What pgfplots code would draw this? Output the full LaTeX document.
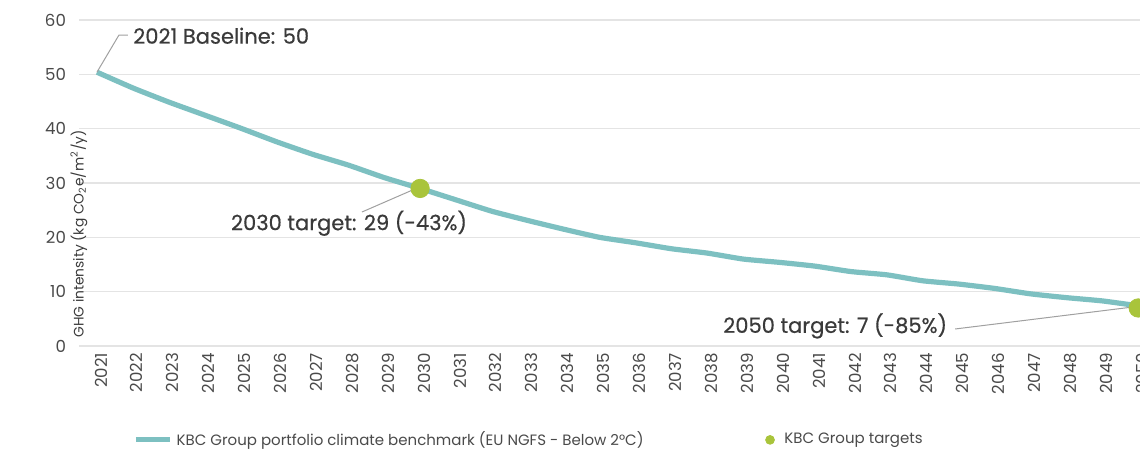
\documentclass[border=0pt]{standalone}
\usepackage{fontspec}
\setmainfont{Poppins}
\newfontfamily\annfont{Poppins}[FakeBold=0.5]
\usepackage{pgfplots}
\pgfplotsset{compat=1.18}
\definecolor{bench}{HTML}{7DC0C1}
\definecolor{kbcgreen}{HTML}{A9C43B}
\definecolor{gridgray}{HTML}{E4E4E4}
\definecolor{txt}{HTML}{3A3A3A}
\definecolor{ticktxt}{HTML}{4A4A4A}
\definecolor{leader}{HTML}{A0A0A0}

\pgfplotstableread{
year value
2021 50.4
2022 47.5
2023 44.9
2024 42.5
2025 40.1
2026 37.6
2027 35.3
2028 33.3
2029 31.0
2030 29.0
2031 26.9
2032 24.8
2033 23.1
2034 21.5
2035 20.0
2036 19.0
2037 17.9
2038 17.1
2039 16.0
2040 15.4
2041 14.7
2042 13.7
2043 13.1
2044 12.0
2045 11.4
2046 10.6
2047 9.6
2048 8.9
2049 8.3
2050 7.4
}\benchmark

\pgfplotstableread{
year value
2030 29
2050 7
}\targets

\begin{document}
\begin{tikzpicture}
\begin{axis}[
  scale only axis, width=530.5pt, height=163pt,
  xmin=2020.5, xmax=2050.05, ymin=0, ymax=60,
  axis line style={draw=none},
  major tick length=0pt,
  ymajorgrids, grid style={gridgray, line width=0.8pt},
  ytick={0,10,...,60},
  xtick={2021,...,2050},
  /pgf/number format/1000 sep={},
  /pgf/number format/assume math mode=true,
  tick label style={font=\fontsize{8.3}{9}\selectfont, text=ticktxt},
  yticklabel style={xshift=-3pt},
  xticklabel style={rotate=90, anchor=east, yshift=-2pt},
  ylabel={GHG intensity (kg CO\textsubscript{2}e/m\textsuperscript{2}/y)},
  ylabel style={at={(rel axis cs:0,0.5)}, anchor=center, xshift=-25.5pt,
    font=\fontsize{6.9}{8}\selectfont, text=txt},
  legend columns=2,
  legend style={at={(0.0452,-0.288)}, anchor=west, draw=none, fill=none,
    font=\fontsize{7.5}{9}\selectfont, text=ticktxt,
    /tikz/every even column/.append style={column sep=59pt}},
  legend cell align=left,
  clip=false,
]
\addplot[bench, line width=2.6pt, smooth, tension=0.3] table[x=year, y=value] {\benchmark};
\addlegendentry{KBC Group portfolio climate benchmark (EU NGFS - Below 2°C)}
\addplot[only marks, mark=*, mark size=4.6pt, color=kbcgreen,
  legend image post style={mark size=2.2pt}] table[x=year, y=value] {\targets};
\addlegendentry{\hspace{3pt}KBC Group targets}

\draw[leader, line width=0.5pt] (axis cs:2021,50.4) -- (axis cs:2021.61,57.2) -- (axis cs:2021.86,57.2);
\node[anchor=west, text=txt, font=\annfont\fontsize{10.5}{12}\selectfont, inner sep=0pt] at (axis cs:2022.0,57.1) {2021 Baseline: 50};
\draw[leader, line width=0.5pt] (axis cs:2028.38,24.66) -- (axis cs:2029.75,28.6);
\node[anchor=center, text=txt, font=\annfont\fontsize{10.5}{12}\selectfont, inner sep=0pt] at (axis cs:2028.02,22.6) {2030 target: 29 (-43\%)};
\draw[leader, line width=0.5pt] (axis cs:2044.9,3.13) -- (axis cs:2050,7.3);
\node[anchor=center, text=txt, font=\annfont\fontsize{10.5}{12}\selectfont, inner sep=0pt] at (axis cs:2041.56,3.7) {2050 target: 7 (-85\%)};
\end{axis}
\pgfresetboundingbox
\path[use as bounding box] (-39.5pt,-52pt) rectangle (530.5pt,173pt);
\end{tikzpicture}
\end{document}
